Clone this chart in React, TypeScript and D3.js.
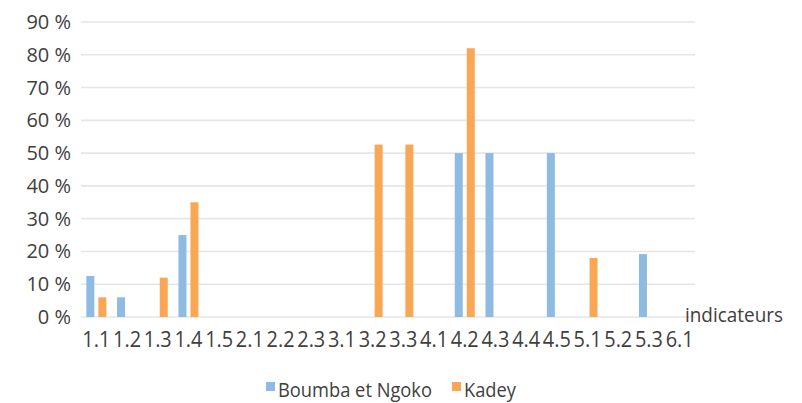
import React from "react";
import * as d3 from "d3";

const categories = ["1.1","1.2","1.3","1.4","1.5","2.1","2.2","2.3","3.1","3.2","3.3","4.1","4.2","4.3","4.4","4.5","5.1","5.2","5.3","6.1"];
const seriesNames = ["Boumba et Ngoko", "Kadey"];
const boumba = [12.5, 6, 0, 25, 0, 0, 0, 0, 0, 0, 0, 0, 50, 50, 0, 50, 0, 0, 19.2, 0];
const kadey = [6, 0, 12, 35, 0, 0, 0, 0, 0, 52.6, 52.6, 0, 82, 0, 0, 0, 18, 0, 0, 0];
const yTicks = [0, 10, 20, 30, 40, 50, 60, 70, 80, 90];
const colors = ["#8DBBE2", "#F9A754"];

const W = 802, H = 403;
const left = 81, right = 695, top = 22, bottom = 317;
const FONT = "'Open Sans', sans-serif";

export default function App() {
  const x = d3.scaleBand<string>().domain(categories).range([left, right]).paddingInner(0).paddingOuter(0);
  const step = x.step();
  const inner = d3.scaleBand<string>().domain(seriesNames).range([(step - 20) / 2, (step + 20) / 2]).paddingInner(1 / 3);
  const y = d3.scaleLinear().domain([0, 90]).range([bottom, top]);
  const series = [boumba, kadey];
  const legendW = [154, 52];

  return (
    <svg width={W} height={H} style={{ position: "absolute", left: 0, top: 0, background: "#fff" }} fontFamily={FONT}>
      {yTicks.map((t) => (
        <g key={t}>
          <line x1={left} x2={right} y1={y(t)} y2={y(t)} stroke="#e6e6e6" strokeWidth={1.6} />
          <text x={71} y={y(t) + 7} textAnchor="end" fontSize={20} fill="#404040">{`${t} %`}</text>
        </g>
      ))}
      {series.map((vals, si) =>
        vals.map((v, i) =>
          v > 0 ? (
            <rect key={`${si}-${i}`} x={(x(categories[i]) as number) + (inner(seriesNames[si]) as number)} y={y(v)} width={inner.bandwidth()} height={y(0) - y(v)} fill={colors[si]} />
          ) : null
        )
      )}
      {categories.map((c) => (
        <text key={c} x={(x(c) as number) + step / 2} y={347} textAnchor="middle" fontSize={21} fill="#404040" textLength={28} lengthAdjust="spacingAndGlyphs">{c}</text>
      ))}
      <text x={685} y={322} fontSize={20} fill="#404040" textLength={98} lengthAdjust="spacingAndGlyphs">indicateurs</text>
      {seriesNames.map((s, i) => {
        const lx = i === 0 ? 266 : 452;
        return (
          <g key={s}>
            <rect x={lx} y={382} width={9} height={9} fill={colors[i]} />
            <text x={lx + 12} y={397} fontSize={20} fill="#404040" textLength={legendW[i]} lengthAdjust="spacingAndGlyphs">{s}</text>
          </g>
        );
      })}
    </svg>
  );
}
